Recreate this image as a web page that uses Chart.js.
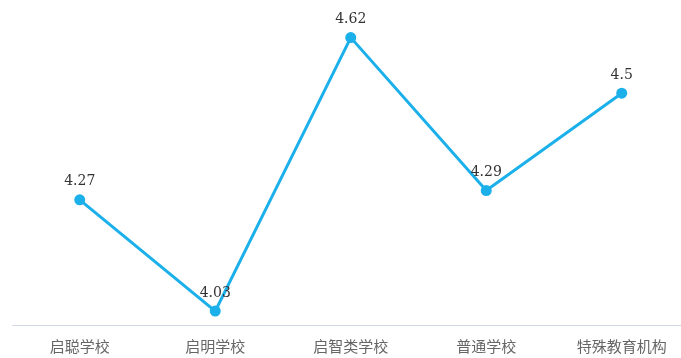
<!DOCTYPE html>
<html>
<head>
<meta charset="utf-8">
<script src="https://cdn.jsdelivr.net/npm/chart.js@4"></script>
<style>
  html, body { margin: 0; padding: 0; background: #fff; overflow: hidden; }
  #wrap { width: 681px; height: 358px; overflow: hidden; }
  #c { display: block; margin-top: -5px; }
</style>
</head>
<body>
<div id="wrap"><canvas id="c" width="695" height="373"></canvas></div>
<script>
// School types and their average scores
const categories = ['启聪学校', '启明学校', '启智类学校', '普通学校', '特殊教育机构'];
const scores = [4.27, 4.03, 4.62, 4.29, 4.5];
const scoreLabels = ['4.27', '4.03', '4.62', '4.29', '4.5'];

// Writes each score above its point
const valueLabels = {
  id: 'valueLabels',
  afterDatasetsDraw(chart) {
    const ctx = chart.ctx;
    const meta = chart.getDatasetMeta(0);
    ctx.save();
    ctx.font = '14px "DejaVu Serif", serif';
    ctx.fillStyle = '#333';
    ctx.textAlign = 'center';
    ctx.textBaseline = 'middle';
    meta.data.forEach((pt, i) => {
      ctx.fillText(scoreLabels[i], pt.x, pt.y - 18);
    });
    ctx.restore();
  }
};

new Chart(document.getElementById('c'), {
  type: 'line',
  data: {
    labels: categories,
    datasets: [{
      data: scores,
      borderColor: '#1bb0ea',
      backgroundColor: '#1bb0ea',
      borderWidth: 3,
      pointRadius: 5.5,
      pointHoverRadius: 5.5,
      pointBackgroundColor: '#1bb0ea',
      pointBorderWidth: 0,
      tension: 0,
      fill: false,
      clip: false
    }]
  },
  options: {
    responsive: false,
    animation: false,
    layout: { padding: { left: 12, right: 0, top: 0, bottom: 1 } },
    plugins: {
      legend: { display: false },
      tooltip: { enabled: false }
    },
    scales: {
      x: {
        offset: true,
        grid: { display: false, drawTicks: false },
        border: { display: true, color: '#d3d9e4', width: 1 },
        ticks: {
          padding: 12,
          color: '#666',
          font: { family: '"Noto Sans CJK SC", sans-serif', size: 15 },
          maxRotation: 0,
          autoSkip: false
        }
      },
      y: {
        display: false,
        min: 4.0,
        max: 4.7
      }
    }
  },
  plugins: [valueLabels]
});
</script>
</body>
</html>
